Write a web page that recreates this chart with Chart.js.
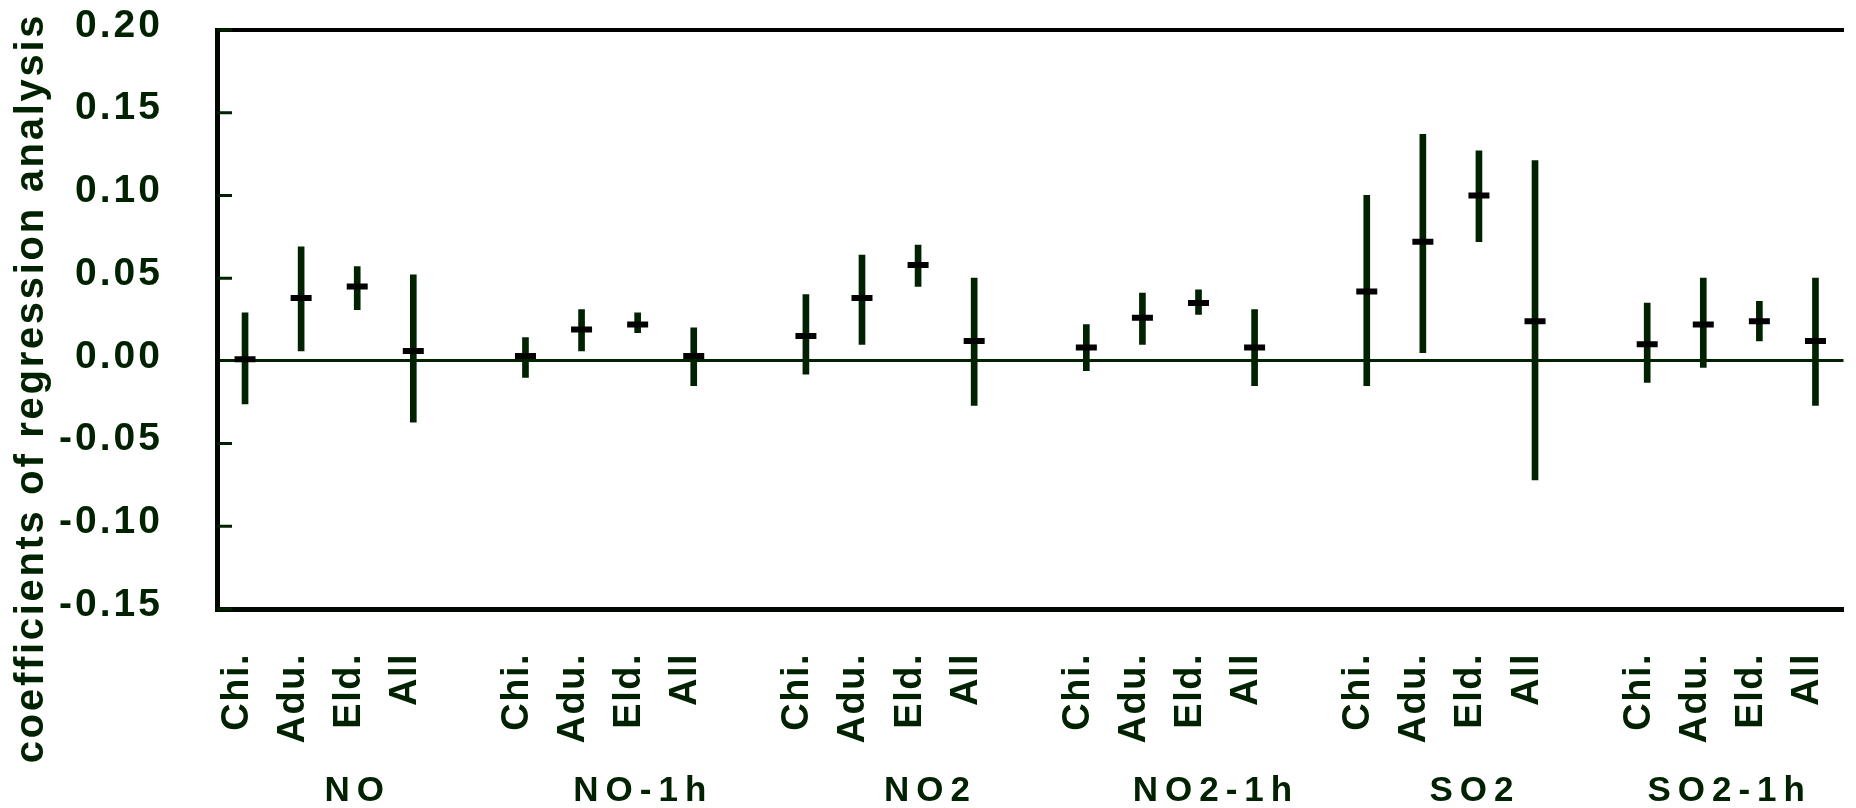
<!DOCTYPE html>
<html>
<head>
<meta charset="utf-8">
<script src="https://cdn.jsdelivr.net/npm/chart.js@4/dist/chart.umd.min.js"></script>
<style>
  html, body { margin: 0; padding: 0; background: #fff; overflow: hidden; }
  canvas { display: block; }
</style>
</head>
<body>
<canvas id="chart" width="1860" height="808"></canvas>
<script>
const groups = ['NO', 'NO-1h', 'NO2', 'NO2-1h', 'SO2', 'SO2-1h'];
const ages = ['Chi.', 'Adu.', 'Eld.', 'All'];

// one row per pollutant, columns Chi., Adu., Eld., All
const coef = [
  0.001, 0.038, 0.045, 0.006,
  0.003, 0.019, 0.022, 0.003,
  0.015, 0.038, 0.058, 0.012,
  0.008, 0.026, 0.035, 0.008,
  0.042, 0.072, 0.100, 0.024,
  0.010, 0.022, 0.024, 0.012
];
const lower = [
  -0.026, 0.006, 0.031, -0.037,
  -0.010, 0.006, 0.017, -0.015,
  -0.008, 0.010, 0.045, -0.027,
  -0.006, 0.010, 0.028, -0.015,
  -0.015, 0.005, 0.072, -0.072,
  -0.013, -0.004, 0.012, -0.027
];
const upper = [
  0.029, 0.069, 0.057, 0.052,
  0.014, 0.031, 0.029, 0.020,
  0.040, 0.064, 0.070, 0.050,
  0.022, 0.041, 0.043, 0.031,
  0.100, 0.137, 0.127, 0.121,
  0.035, 0.050, 0.036, 0.050
];

// group names are not quite centred under their groups in the original
const groupLabelAt = [2.01, 7.10, 12.22, 17.31, 21.93, 26.47];

const ink = '#002200';
const frame = '#000800';
const font = "'Liberation Sans', Arial, sans-serif";

// lay the groups out on one category axis, with an empty slot between them
const slotLabels = [];
const slotCoef = [];
const slotRange = [];
groups.forEach((g, gi) => {
  ages.forEach((a, ai) => {
    const k = gi * ages.length + ai;
    slotLabels.push(a);
    slotCoef.push(coef[k]);
    slotRange.push([lower[k], upper[k]]);
  });
  if (gi < groups.length - 1) {
    slotLabels.push('');
    slotCoef.push(null);
    slotRange.push(null);
  }
});

// fixed axis sizes, and no extra room reserved for overhanging labels
function fixSize(size) {
  return scale => {
    if (scale.isHorizontal()) scale.height = size;
    else scale.width = size;
    scale.paddingLeft = scale.paddingRight = 0;
    scale.paddingTop = scale.paddingBottom = 0;
  };
}

// canvas text has no letter-spacing option in Chart.js, so wrap the draw calls
const spacing = {
  id: 'spacing',
  beforeDraw(chart) {
    const ctx = chart.ctx;
    const wrap = (obj, name, px, dy) => {
      if (!obj || obj['_spaced_' + name]) return;
      const orig = obj[name];
      obj[name] = function (...args) {
        ctx.save();
        ctx.letterSpacing = px;
        if (dy) ctx.translate(0, dy);
        orig.apply(this, args);
        ctx.restore();
      };
      obj['_spaced_' + name] = true;
    };
    wrap(chart.scales.y, 'drawLabels', '3px');
    wrap(chart.scales.x, 'drawLabels', '1.5px');
    wrap(chart.scales.x2, 'drawLabels', '7px');
    // the axis title sits a little above the middle of the canvas
    wrap(chart.titleBlock, 'draw', '2.7px', -16);
  }
};

// short tick marks on the inside of the left axis
const innerTicks = {
  id: 'innerTicks',
  afterDatasetsDraw(chart) {
    const {ctx, chartArea, scales: {y}} = chart;
    ctx.save();
    ctx.strokeStyle = ink;
    ctx.lineWidth = 3;
    ctx.beginPath();
    y.ticks.forEach(t => {
      if (Math.abs(t.value) < 1e-9) return;
      const py = y.getPixelForValue(t.value);
      ctx.moveTo(chartArea.left, py);
      ctx.lineTo(chartArea.left + 15, py);
    });
    ctx.stroke();
    ctx.restore();
  }
};

new Chart(document.getElementById('chart'), {
  type: 'bar',
  data: {
    labels: slotLabels,
    datasets: [
      {
        type: 'line',
        data: slotCoef,
        showLine: false,
        pointStyle: 'line',
        pointRadius: 10.5,
        pointHoverRadius: 10.5,
        pointBorderWidth: 6,
        pointBorderColor: '#000',
        order: 0
      },
      {
        data: slotRange,
        backgroundColor: ink,
        borderWidth: 0,
        barThickness: 6,
        order: 1
      }
    ]
  },
  options: {
    responsive: false,
    animation: false,
    layout: { padding: 0 },
    plugins: {
      legend: { display: false },
      tooltip: { enabled: false },
      title: {
        display: true,
        position: 'left',
        text: 'coefficients of regression analysis',
        color: ink,
        font: { family: font, size: 40, weight: 'bold', lineHeight: 1 },
        padding: { top: 12, bottom: 0 }
      }
    },
    scales: {
      y: {
        min: -0.15,
        max: 0.20,
        afterFit: fixSize(165),
        ticks: {
          stepSize: 0.05,
          padding: 54,
          labelOffset: -4,
          color: ink,
          font: { family: font, size: 39, weight: 'bold' },
          callback: v => v.toFixed(2)
        },
        grid: {
          drawTicks: false,
          lineWidth: 3,
          color: c => (c.tick && Math.abs(c.tick.value) < 1e-9) ? ink : 'transparent'
        },
        border: { display: true, width: 5, color: frame }
      },
      x: {
        weight: 0,
        afterFit: fixSize(150),
        ticks: {
          minRotation: 90,
          maxRotation: 90,
          autoSkip: false,
          padding: 36,
          labelOffset: -8,
          color: ink,
          font: { family: font, size: 38, weight: 'bold' }
        },
        grid: { display: false },
        border: { display: true, width: 5, color: frame }
      },
      x2: {
        type: 'linear',
        position: 'bottom',
        weight: 1,
        offset: false,
        min: -0.5,
        max: slotLabels.length - 0.5,
        afterFit: fixSize(49),
        afterBuildTicks(scale) {
          scale.ticks = groupLabelAt.map(v => ({ value: v }));
        },
        ticks: {
          autoSkip: false,
          maxRotation: 0,
          minRotation: 0,
          padding: 15,
          color: ink,
          font: { family: font, size: 35, weight: 'bold', lineHeight: 1 },
          callback: (v, i) => groups[i]
        },
        grid: { display: false, drawTicks: false, offset: false },
        border: { display: false }
      },
      xTop: {
        type: 'linear',
        position: 'top',
        offset: false,
        min: 0,
        max: 1,
        afterFit: fixSize(30),
        ticks: { display: false },
        grid: { display: false, offset: false },
        border: { display: true, width: 4, color: '#000' }
      }
    }
  },
  plugins: [spacing, innerTicks]
});
</script>
</body>
</html>
